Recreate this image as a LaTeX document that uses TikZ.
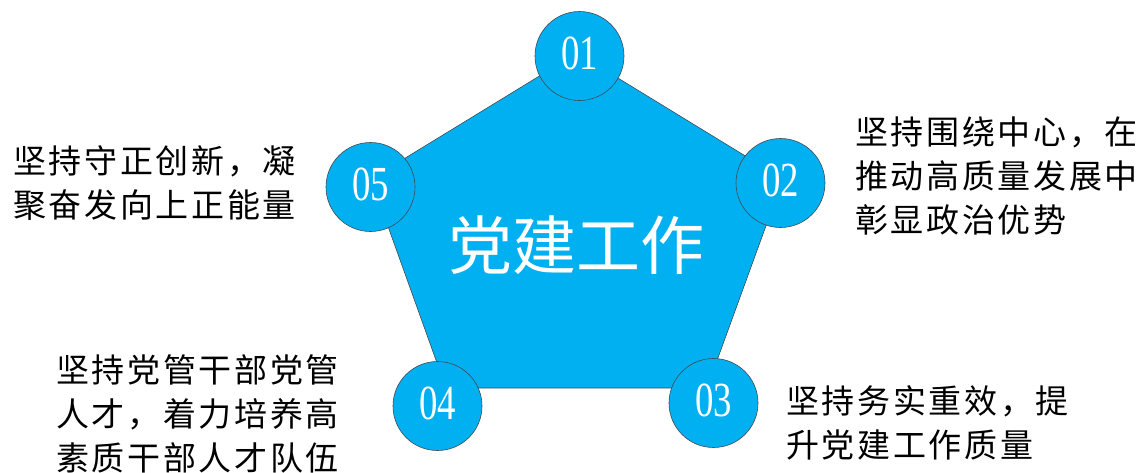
\documentclass[tikz,border=0pt]{standalone}
\usepackage{fontspec}
\newfontfamily\cjk[LetterSpace=8]{Noto Sans CJK SC}
\newfontfamily\cjkhead{Noto Sans CJK SC}
\newfontfamily\numfont{Liberation Serif}
\definecolor{partyblue}{HTML}{00B0F0}
\definecolor{rimgray}{HTML}{3F4A55}
\newcommand{\numtext}[1]{\scalebox{0.75}[1]{#1}}

\begin{document}
\begin{tikzpicture}[
        x=1pt, y=-1pt,
        disc/.style={circle, fill=partyblue, draw=rimgray, line width=0.6pt,
            minimum size=89pt, inner sep=0pt, text=white, text depth=6pt,
            font=\numfont\fontsize{49}{49}\selectfont},
        desc/.style={anchor=north west, inner sep=0pt, align=left,
            font=\cjk\fontsize{33}{44}\selectfont},
        title/.style={text=white, inner sep=0pt,
            font=\cjkhead\fontsize{64}{64}\selectfont}
    ]
    \useasboundingbox (0,0) rectangle (1145,472);
    % pentagon
    \coordinate (top) at (577,53);
    \coordinate (right) at (783,179);
    \coordinate (bottomright) at (707,388);
    \coordinate (bottomleft) at (446,388);
    \coordinate (left) at (371,179);
    \draw[fill=partyblue, draw=rimgray, line width=0.6pt]
        (top) -- (right) -- (bottomright) -- (bottomleft) -- (left) -- cycle;
    \node[title] (title) at (576,245) {党建工作};
    % circles
    \node[disc] (num01) at (579.5,56) {\numtext{01}};
    \node[disc] (num02) at (780.5,183) {\numtext{02}};
    \node[disc] (num03) at (713.5,403) {\numtext{03}};
    \node[disc] (num04) at (437.5,406) {\numtext{04}};
    \node[disc] (num05) at (370.5,187) {\numtext{05}};
    % texts
    \node[desc] (text02) at (855,117) {坚持围绕中心，在\\推动高质量发展中\\彰显政治优势};
    \node[desc] (text03) at (786,385) {坚持务实重效，提\\升党建工作质量};
    \node[desc] (text04) at (56,354) {坚持党管干部党管\\人才，着力培养高\\素质干部人才队伍};
    \node[desc] (text05) at (13,145) {坚持守正创新，凝\\聚奋发向上正能量};
\end{tikzpicture}
\end{document}
